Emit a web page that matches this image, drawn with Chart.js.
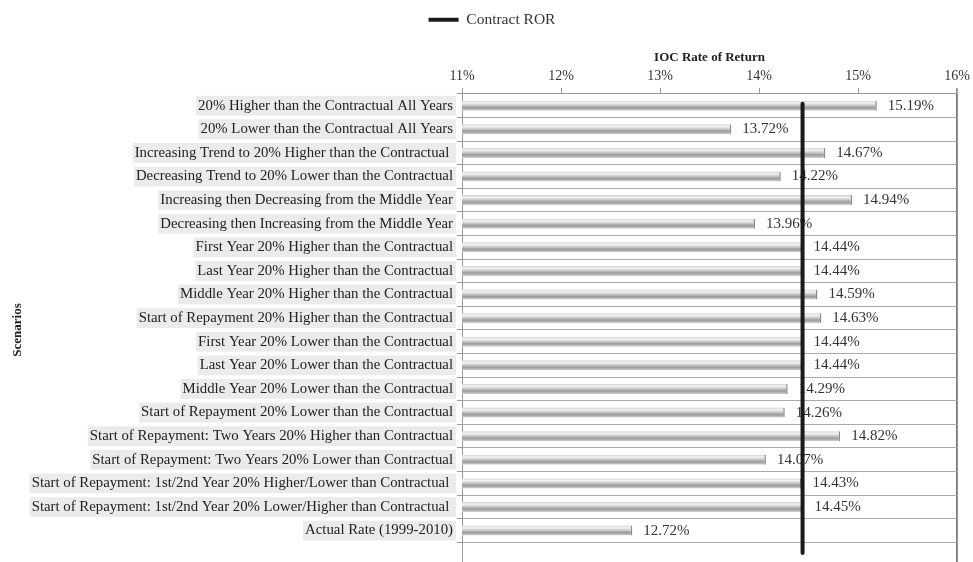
<!DOCTYPE html>
<html>
<head>
<meta charset="utf-8">
<script src="https://cdn.jsdelivr.net/npm/chart.js@4"></script>
<style>
  html, body { margin: 0; padding: 0; background: #fff; overflow: hidden; }
  #wrap { width: 973px; height: 562px; overflow: hidden; }
</style>
</head>
<body>
<div id="wrap"><canvas id="chart" width="973" height="580"></canvas></div>
<script>
// scenario names (bottom empty slot keeps the plot running below the last bar)
const scenarios = [
  '20% Higher than the Contractual All Years',
  '20% Lower than the Contractual All Years',
  'Increasing Trend to 20% Higher than the Contractual ',
  'Decreasing Trend to 20% Lower than the Contractual',
  'Increasing then Decreasing from the Middle Year',
  'Decreasing then Increasing from the Middle Year',
  'First Year 20% Higher than the Contractual',
  'Last Year 20% Higher than the Contractual',
  'Middle Year 20% Higher than the Contractual',
  'Start of Repayment 20% Higher than the Contractual',
  'First Year 20% Lower than the Contractual',
  'Last Year 20% Lower than the Contractual',
  'Middle Year 20% Lower than the Contractual',
  'Start of Repayment 20% Lower than the Contractual',
  'Start of Repayment: Two Years 20% Higher than Contractual',
  'Start of Repayment: Two Years 20% Lower than Contractual',
  'Start of Repayment: 1st/2nd Year 20% Higher/Lower than Contractual ',
  'Start of Repayment: 1st/2nd Year 20% Lower/Higher than Contractual ',
  'Actual Rate (1999-2010)',
  '',
];
const iocRor = [15.19, 13.72, 14.67, 14.22, 14.94, 13.96, 14.44, 14.44, 14.59, 14.63,
  14.44, 14.44, 14.29, 14.26, 14.82, 14.07, 14.43, 14.45, 12.72, null];
const contractRor = 14.44;
const contractLineY = [0.42, 19.45];
const xTicks = [11, 12, 13, 14, 15, 16];

const SERIF = '"Liberation Serif", "Times New Roman", serif';
const BAR_H = 10;
const PAD_LEFT = 27;

function barFill(ctx) {
  const chart = ctx.chart;
  if (!chart.chartArea || ctx.type !== 'data') return '#c4c4c4';
  const y = chart.scales.y.getPixelForValue(ctx.dataIndex);
  const g = chart.ctx.createLinearGradient(0, y - BAR_H / 2, 0, y + BAR_H / 2);
  g.addColorStop(0, '#cfcfcf');
  g.addColorStop(0.22, '#f4f4f4');
  g.addColorStop(0.45, '#cdcdcd');
  g.addColorStop(0.7, '#9a9a9a');
  g.addColorStop(1, '#d2d2d2');
  return g;
}

// value text after each bar, drawn before the contract line so the line sits on top
const valueLabels = {
  id: 'valueLabels',
  afterDatasetDraw(chart, args) {
    if (args.index !== 0) return;
    const { ctx } = chart;
    ctx.save();
    ctx.font = '15px ' + SERIF;
    ctx.fillStyle = '#333';
    ctx.textBaseline = 'middle';
    args.meta.data.forEach((bar, i) => {
      if (iocRor[i] == null) return;
      ctx.fillText(iocRor[i].toFixed(2) + '%', bar.x + 11, bar.y);
    });
    ctx.restore();
  },
};

new Chart(document.getElementById('chart'), {
  type: 'bar',
  data: {
    labels: scenarios,
    datasets: [{
      label: 'IOC Rate of Return',
      data: iocRor,
      backgroundColor: barFill,
      borderColor: '#8a8a8a',
      borderWidth: { top: 0, right: 1.5, bottom: 0, left: 0 },
      borderSkipped: false,
      grouped: false,
      categoryPercentage: 1,
      barPercentage: 0.6,
      maxBarThickness: BAR_H,
      order: 1,
    }, {
      type: 'line',
      label: 'Contract ROR',
      data: contractLineY.map(y => ({ x: contractRor, y })),
      yAxisID: 'yLine',
      borderColor: '#1a1a1a',
      backgroundColor: '#1a1a1a',
      borderWidth: 4,
      borderCapStyle: 'round',
      pointRadius: 0,
      order: 0,
    }],
  },
  options: {
    responsive: false,
    animation: false,
    indexAxis: 'y',
    layout: { padding: { left: PAD_LEFT, right: 16, top: 4, bottom: 14 } },
    plugins: {
      legend: {
        position: 'top',
        labels: {
          filter: item => item.datasetIndex === 1,
          usePointStyle: true,
          pointStyle: 'line',
          pointStyleWidth: 30,
          boxHeight: 13,
          color: '#333',
          font: { family: SERIF, size: 15.5 },
          padding: 8,
        },
      },
      tooltip: { enabled: false },
    },
    scales: {
      x: {
        position: 'top',
        min: 11,
        max: 16,
        afterBuildTicks: s => { s.ticks = xTicks.map(v => ({ value: v })); },
        ticks: {
          color: '#333',
          font: { family: SERIF, size: 14 },
          padding: 3,
          callback: v => v + '%',
        },
        grid: {
          color: c => (c.tick && c.tick.value === 16 ? '#7a7a7a' : 'transparent'),
          lineWidth: c => (c.tick && c.tick.value === 16 ? 1.8 : 1),
          tickColor: '#9a9a9a',
          tickLength: 6,
        },
        border: { color: '#9a9a9a' },
        title: {
          display: true,
          text: 'IOC Rate of Return',
          color: '#222',
          font: { family: SERIF, size: 13, weight: 'bold' },
          padding: { top: 12, bottom: 0 },
        },
      },
      y: {
        afterFit: s => { s.width = 462 - PAD_LEFT; },
        ticks: {
          color: '#222',
          font: { family: SERIF, size: 14.8 },
          padding: 4,
          showLabelBackdrop: true,
          backdropColor: c => (c.index === scenarios.length - 1 ? 'rgba(0,0,0,0)' : '#ebebeb'),
          backdropPadding: { top: 1, bottom: 1, left: 2, right: 3 },
          autoSkip: false,
        },
        grid: {
          offset: true,
          color: '#ababab',
          tickColor: '#9a9a9a',
          tickLength: 5,
        },
        border: { color: '#9a9a9a' },
        title: {
          display: true,
          text: 'Scenarios',
          color: '#222',
          font: { family: SERIF, size: 13, weight: 'bold' },
          padding: { top: 10 - PAD_LEFT, bottom: 0 },
        },
      },
      yLine: {
        type: 'linear',
        display: false,
        offset: false,
        grace: 0,
        min: 0,
        max: 20,
        reverse: true,
      },
    },
  },
  plugins: [valueLabels],
});
</script>
</body>
</html>
